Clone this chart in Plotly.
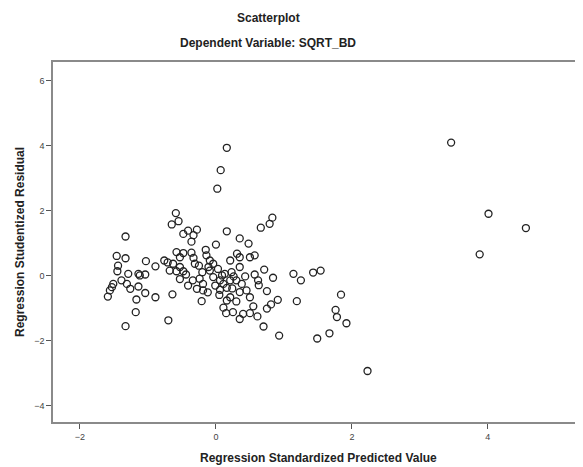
import plotly.graph_objects as go

# Regression Standardized Predicted Value
pred = [
    -1.33, -1.46, -1.33, -1.44, -1.45, -1.29, -1.14, -1.04, -1.03, -0.89,
    -0.76, -0.71, -1.12, -1.39, -1.51, -1.53, -1.56, -1.59, -1.31, -1.26,
    -1.14, -1.04, -1.17, -0.89, -1.18, -1.33, -0.70, -0.64,
    -0.59, -0.55, -0.65, -0.48, -0.41, -0.28, -0.33, -0.36, 0.16, 0.35,
    0.48, 0.00, -0.15, -0.58, -0.48, -0.53, -0.63, -0.53, -0.48, -0.58,
    -0.33, -0.31, -0.14, -0.09, -0.04, -0.11, 0.21, 0.31, 0.35, 0.50,
    0.57, 0.35, 0.23, -0.53, -0.34, -0.41, -0.24, -0.19, -0.04, 0.06,
    0.13, 0.11, 0.16, 0.21, 0.30, 0.38, -0.28, -0.19, 0.06, 0.35,
    0.45, 0.50, 0.21, 0.16, -0.21,
    0.83, 0.79, 0.66, 0.71, 0.57, 0.62, 0.63, 0.84, 1.14, 1.25,
    1.43, 1.54, 0.75, 1.84, 1.19, 0.91, 0.81, 0.75, 0.55, 0.50,
    0.61, 0.40, 1.76, 1.78, 1.92, 0.70, 0.93, 1.67, 1.49, 2.23,
    0.35, 0.25, 0.15, 0.11,
    3.46, 4.01, 4.56, 3.88,
    0.16, 0.07, 0.02,
    -0.09, 0.03, 0.09, 0.26, 0.43, -0.01, 0.24, -0.12, -0.44, -0.68,
    -0.20, 0.05, 0.30, -0.36, -0.25,
]

# Regression Studentized Residual
resid = [
    1.20, 0.60, 0.53, 0.30, 0.13, 0.05, 0.05, 0.03, 0.44, 0.28,
    0.46, 0.40, 0.00, -0.15, -0.26, -0.36, -0.46, -0.65, -0.26, -0.41,
    -0.34, -0.54, -0.74, -0.67, -1.13, -1.56, -1.38, -0.58,
    1.92, 1.67, 1.57, 1.28, 1.38, 1.41, 1.24, 1.04, 1.36, 1.14,
    0.98, 0.95, 0.79, 0.72, 0.69, 0.56, 0.36, 0.26, 0.13, 0.13,
    0.54, 0.36, 0.62, 0.46, 0.36, 0.26, 0.46, 0.67, 0.56, 0.56,
    0.62, 0.26, 0.10, -0.11, -0.15, -0.31, -0.10, -0.26, -0.05, -0.15,
    0.05, -0.26, -0.38, -0.15, -0.15, -0.26, -0.41, -0.46, -0.44, -0.51,
    -0.46, -0.67, -0.67, -0.77, -0.79,
    1.78, 1.59, 1.47, 0.18, 0.03, -0.15, -0.30, -0.07, 0.05, -0.15,
    0.09, 0.15, -0.48, -0.59, -0.79, -0.75, -0.89, -1.02, -0.95, -1.16,
    -1.26, -1.18, -1.06, -1.28, -1.47, -1.57, -1.85, -1.78, -1.94, -2.94,
    -1.34, -1.13, -1.16, -0.99,
    4.09, 1.90, 1.46, 0.65,
    3.93, 3.24, 2.67,
    0.15, 0.20, 0.00, -0.03, -0.03, -0.31, -0.40, -0.52, 0.03, 0.15,
    0.10, -0.60, -0.80, 0.70, 0.30,
]

x_ticks = [-2, 0, 2, 4]
y_ticks = [-4, -2, 0, 2, 4, 6]

title_lines = ["Scatterplot", "Dependent Variable: SQRT_BD"]
x_title = "Regression Standardized Predicted Value"
y_title = "Regression Studentized Residual"

fig = go.Figure()
fig.add_trace(go.Scatter(
    x=pred, y=resid, mode="markers",
    marker=dict(symbol="circle-open", size=7, color="#222222",
                line=dict(width=1.3, color="#222222")),
    hoverinfo="skip", showlegend=False,
))

font_main = "Liberation Sans, Arial, sans-serif"
fig.update_layout(
    width=575, height=459,
    margin=dict(l=45, r=0, t=54, b=45),
    paper_bgcolor="white", plot_bgcolor="white",
    font=dict(family=font_main, color="#222222"),
    xaxis=dict(range=[-2.397, 5.40], tickvals=x_ticks, showgrid=False,
               zeroline=False, showline=True, linecolor="#8a8a8a",
               linewidth=1.5, mirror=True, ticks="outside", ticklen=5,
               tickcolor="#555555", tickwidth=1,
               tickfont=dict(size=9, color="#444444")),
    yaxis=dict(range=[-4.51, 6.57], tickvals=y_ticks, showgrid=False,
               zeroline=False, showline=True, linecolor="#8a8a8a",
               linewidth=1.5, mirror=False, ticks="outside", ticklen=5,
               tickcolor="#555555", tickwidth=1,
               tickfont=dict(size=9, color="#444444")),
    annotations=[
        dict(text="<b>%s</b>" % title_lines[0], xref="paper", yref="paper",
             x=0.406, y=1.122, showarrow=False, xanchor="center",
             yanchor="middle", font=dict(size=12)),
        dict(text="<b>%s</b>" % title_lines[1], xref="paper", yref="paper",
             x=0.406, y=1.053, showarrow=False, xanchor="center",
             yanchor="middle", font=dict(size=12)),
        dict(text="<b>%s</b>" % x_title, xref="paper", yref="paper",
             x=0.5, y=-0.1, showarrow=False, xanchor="center",
             yanchor="middle", font=dict(size=12)),
        dict(text="<b>%s</b>" % y_title, xref="paper", yref="paper",
             x=-0.0623, y=0.5, showarrow=False, xanchor="center",
             yanchor="middle", textangle=-90, font=dict(size=12)),
    ],
)

fig.write_html("out.html")
